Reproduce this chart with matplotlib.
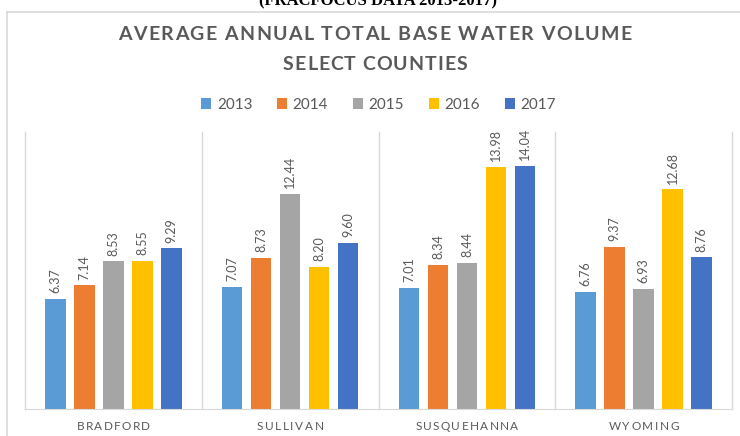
import numpy as np
import matplotlib
matplotlib.use("Agg")
import matplotlib.pyplot as plt
from matplotlib.font_manager import FontProperties
from matplotlib.lines import Line2D

# Data
counties = ["BRADFORD", "SULLIVAN", "SUSQUEHANNA", "WYOMING"]
years = ["2013", "2014", "2015", "2016", "2017"]
vol_2013 = [6.37, 7.07, 7.01, 6.76]
vol_2014 = [7.14, 8.73, 8.34, 9.37]
vol_2015 = [8.53, 12.44, 8.44, 6.93]
vol_2016 = [8.55, 8.20, 13.98, 12.68]
vol_2017 = [9.29, 9.60, 14.04, 8.76]
series = [vol_2013, vol_2014, vol_2015, vol_2016, vol_2017]
colors = ["#5B9BD5", "#ED7D31", "#A5A5A5", "#FFC000", "#4472C4"]

W, H = 740, 436
TXT = "#595959"
GRID = "#D9D9D9"
FONT = "Lato"

fig = plt.figure(figsize=(W / 100, H / 100), dpi=100)
renderer = fig.canvas.get_renderer()


def tracked(xc, ybase, s, size, width, weight="normal", color=TXT):
    # draw text with letter spacing so that it spans `width` pixels
    fp = FontProperties(family=FONT, size=size, weight=weight)
    ws = [renderer.get_text_width_height_descent(c, fp, ismath=False)[0] for c in s]
    track = (width - sum(ws)) / (len(s) - 1)
    x = xc - width / 2
    for c, w in zip(s, ws):
        fig.text(x / W, 1 - ybase / H, c, fontproperties=fp, color=color,
                 ha="left", va="baseline")
        x += w + track
    return track


# chart frame and the cut-off caption above it
fig.add_artist(Line2D([7 / W, 7 / W], [0, 1 - 12 / H], color=GRID, lw=1.2))
fig.add_artist(Line2D([7 / W, 1], [1 - 12 / H, 1 - 12 / H], color=GRID, lw=1.2))
fig.text(378 / W, 1 - 5 / H, "(FRACFOCUS DATA 2013-2017)", family="Liberation Serif",
         weight="bold", size=12, ha="center", va="baseline", color="black")

ax = fig.add_axes([25 / W, 27 / H, 707 / W, 277 / H])
x = np.arange(len(counties))
step, bw = 0.164, 0.116
for i, (vals, col, yr) in enumerate(zip(series, colors, years)):
    bars = ax.bar(x + (i - 2) * step, vals, bw, color=col, label=yr, zorder=2)
    for b, v in zip(bars, vals):
        ax.annotate(f"{v:.2f}", (b.get_x() + b.get_width() / 2, v), xytext=(0, 4),
                    textcoords="offset points", rotation=90, ha="center", va="bottom",
                    fontsize=9, color=TXT, family=FONT)

ax.set_xlim(-0.5, 3.5)
ax.set_ylim(0, 16)
for xv in np.arange(-0.5, 4, 1):
    ax.axvline(xv, color=GRID, lw=1, zorder=1, clip_on=False)
for s in ["top", "left", "right"]:
    ax.spines[s].set_visible(False)
ax.spines["bottom"].set_color(GRID)
ax.set_xticks([])
ax.set_yticks([])

leg = ax.legend(loc="center", bbox_to_anchor=(0.5, (105 - 132) / -277 + 1), ncol=5,
                frameon=False, prop=FontProperties(family=FONT, size=11),
                handlelength=0.7, handleheight=0.7, handletextpad=0.35,
                columnspacing=1.6, labelcolor=TXT)

# title and category labels with Excel-like letter spacing
tracked(375, 40, "AVERAGE ANNUAL TOTAL BASE WATER VOLUME", 14, 514, weight="bold")
tracked(375, 70, "SELECT COUNTIES", 14, 184, weight="bold")
label_w = {"BRADFORD": 74, "SULLIVAN": 67, "SUSQUEHANNA": 103, "WYOMING": 70}
for i, name in enumerate(counties):
    xc = 25 + 707 * (i + 0.5) / 4
    tracked(xc, 430, name, 8.5, label_w[name])

fig.savefig("out.png", dpi=100)
